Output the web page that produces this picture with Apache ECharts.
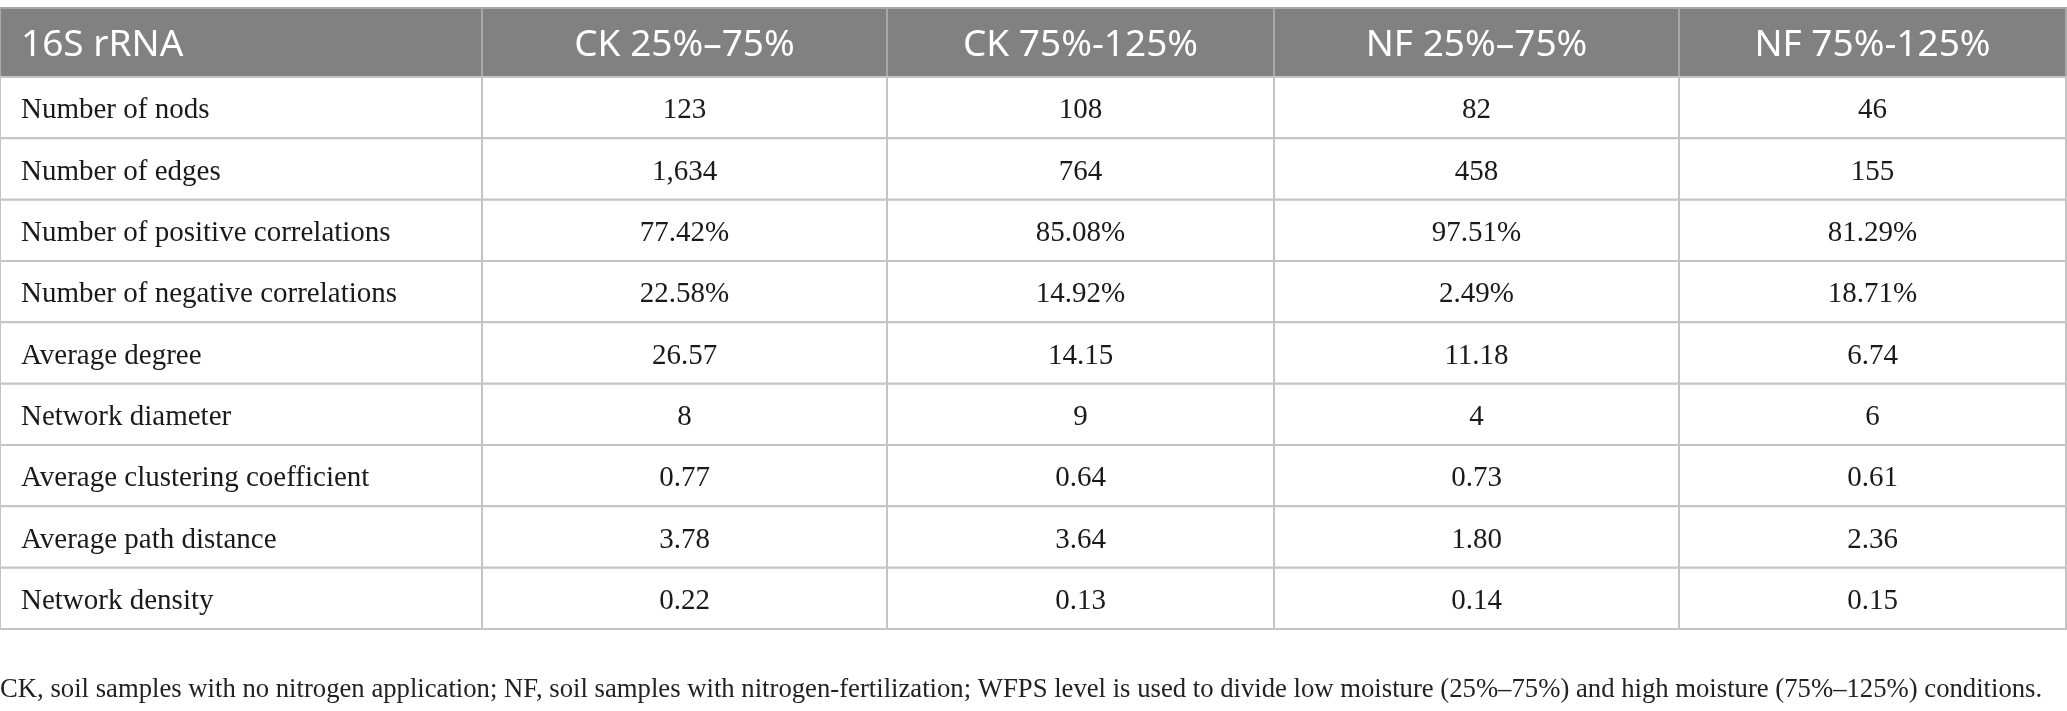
<!DOCTYPE html>
<html>
<head>
<meta charset="utf-8">
<title>16S rRNA network properties</title>
<script src="https://cdn.jsdelivr.net/npm/echarts@6/dist/echarts.min.js"></script>
<style>
  html, body { margin: 0; padding: 0; background: #fff; }
  #table { width: 2067px; height: 711px; }
</style>
</head>
<body>
<div id="table"></div>
<script>
// table data ==========================================
var colHeaders = ['16S rRNA', 'CK 25%–75%', 'CK 75%-125%', 'NF 25%–75%', 'NF 75%-125%'];
var rowLabels = [
    'Number of nods',
    'Number of edges',
    'Number of positive correlations',
    'Number of negative correlations',
    'Average degree',
    'Network diameter',
    'Average clustering coefficient',
    'Average path distance',
    'Network density'
];
var ck2575 = ['123', '1,634', '77.42%', '22.58%', '26.57', '8', '0.77', '3.78', '0.22'];
var ck75125 = ['108', '764', '85.08%', '14.92%', '14.15', '9', '0.64', '3.64', '0.13'];
var nf2575 = ['82', '458', '97.51%', '2.49%', '11.18', '4', '0.73', '1.80', '0.14'];
var nf75125 = ['46', '155', '81.29%', '18.71%', '6.74', '6', '0.61', '2.36', '0.15'];
var footnote = 'CK, soil samples with no nitrogen application; NF, soil samples with nitrogen-fertilization; WFPS level is used to divide low moisture (25%–75%) and high moisture (75%–125%) conditions.';

// layout ==============================================
var colWidths = [482, 405, 387, 405, 387];
var colEdges = [0];
for (var i = 0; i < colWidths.length; i++) {
    colEdges.push(colEdges[i] + colWidths[i]);
}
var tableWidth = colEdges[colEdges.length - 1];

var headerFont = '37px "Noto Sans"';
var bodyFont = '29px "Liberation Serif"';

// cell items: [column, row, text]
var headerCells = colHeaders.map(function(h, c) { return [c, 0, h]; });
var bodyCells = [];
var valueCols = [rowLabels, ck2575, ck75125, nf2575, nf75125];
for (var r = 0; r < rowLabels.length; r++) {
    for (var c = 0; c < valueCols.length; c++) {
        bodyCells.push([c, r, valueCols[c][r]]);
    }
}

function cellRenderer(fill, stroke, textColor, font, dy) {
    return function(params, api) {
        var c = api.value(0);
        var r = api.value(1);
        var left = api.coord([colEdges[c], r]);
        var right = api.coord([colEdges[c + 1], r]);
        var h = api.size([0, 1])[1];
        return {
            type: 'rect',
            shape: { x: left[0], y: left[1] - h / 2, width: right[0] - left[0], height: h },
            style: { fill: fill, stroke: stroke, lineWidth: 2 },
            textContent: {
                style: { text: api.value(2), fill: textColor, font: font }
            },
            textConfig: c === 0
                ? { position: 'insideLeft', distance: 22, offset: [0, dy] }
                : { position: 'inside', offset: [0, dy] }
        };
    };
}

var myTable = echarts.init(document.getElementById('table'));
var option = {
    backgroundColor: '#fff',
    animation: false,
    title: {
        text: footnote,
        left: 0,
        top: 676,
        padding: 0,
        textStyle: {
            fontFamily: 'Liberation Serif',
            fontSize: 26.7,
            fontWeight: 'normal',
            color: '#222'
        }
    },
    grid: [
        { left: 0, top: 8, width: tableWidth, height: 69 },  // header
        { left: 0, top: 77, width: tableWidth, height: 552 } // body
    ],
    xAxis: [
        { type: 'value', gridIndex: 0, min: 0, max: tableWidth, show: false },
        { type: 'value', gridIndex: 1, min: 0, max: tableWidth, show: false }
    ],
    yAxis: [
        { type: 'category', gridIndex: 0, data: ['header'], show: false },
        { type: 'category', gridIndex: 1, data: rowLabels, inverse: true, show: false }
    ],
    series: [
        {
            type: 'custom',
            xAxisIndex: 0,
            yAxisIndex: 0,
            clip: false,
            silent: true,
            renderItem: cellRenderer('#808180', '#a8a8a8', '#fff', headerFont, 3),
            data: headerCells
        },
        {
            type: 'custom',
            xAxisIndex: 1,
            yAxisIndex: 1,
            clip: false,
            silent: true,
            renderItem: cellRenderer('#fff', '#c4c4c4', '#1a1a1a', bodyFont, 3),
            data: bodyCells
        }
    ]
};
myTable.setOption(option);
</script>
</body>
</html>
